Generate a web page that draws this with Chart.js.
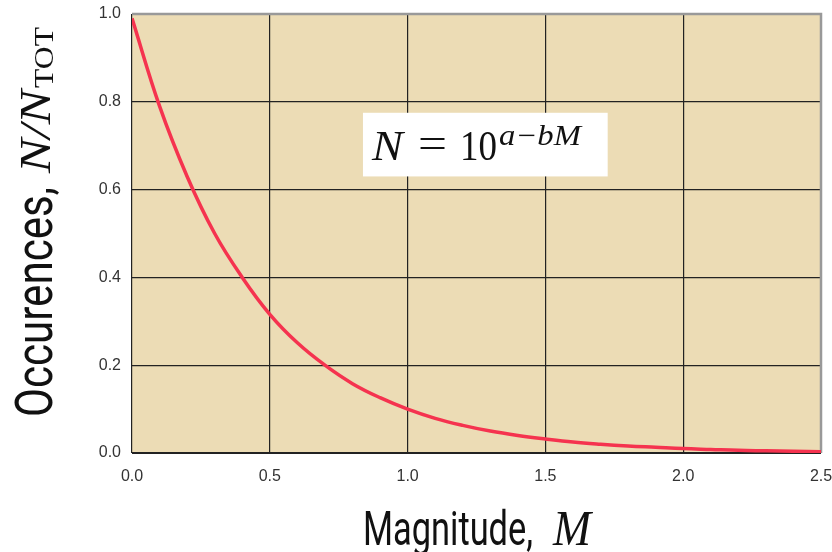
<!DOCTYPE html>
<html>
<head>
<meta charset="utf-8">
<script src="https://cdn.jsdelivr.net/npm/chart.js@4"></script>
<style>
  html, body { margin: 0; padding: 0; background: #fff; }
  #wrap { width: 832px; height: 552px; }
</style>
</head>
<body>
<div id="wrap"><canvas id="gr"></canvas></div>
<script>
// values
var magnitudes = [0, 0.1, 0.2, 0.3, 0.4, 0.5, 0.6, 0.7, 0.8, 0.9, 1.0, 1.1, 1.2, 1.3,
  1.4, 1.5, 1.6, 1.7, 1.8, 1.9, 2.0, 2.1, 2.2, 2.3, 2.4, 2.5];
var occurences = [0.99, 0.79, 0.63, 0.50, 0.40, 0.316, 0.251, 0.20, 0.158, 0.126, 0.10, 0.079,
  0.063, 0.05, 0.04, 0.032, 0.025, 0.02, 0.016, 0.013, 0.01, 0.008, 0.006, 0.005, 0.004, 0.003];
var xTicks = [0, 0.5, 1.0, 1.5, 2.0, 2.5];
var yTicks = [0, 0.2, 0.4, 0.6, 0.8, 1.0];

var points = magnitudes.map((m, i) => ({ x: m, y: occurences[i] }));

// draw text squeezed/stretched to a given width
function fitText(ctx, txt, font, x, y, w) {
  ctx.save();
  ctx.font = font;
  var mw = ctx.measureText(txt).width;
  ctx.translate(x, y);
  ctx.scale(w / mw, 1);
  ctx.fillText(txt, 0, 0);
  ctx.restore();
}

var paper = {
  id: 'paper',
  beforeDraw(chart) {
    var a = chart.chartArea, ctx = chart.ctx;
    ctx.save();
    ctx.fillStyle = '#ecdcb5';
    ctx.fillRect(a.left, a.top, a.right - a.left, a.bottom - a.top);
    ctx.restore();
  },
  beforeDatasetsDraw(chart) {
    var a = chart.chartArea, ctx = chart.ctx;
    ctx.save();
    ctx.strokeStyle = '#999';
    ctx.lineWidth = 2.5;
    ctx.beginPath();
    ctx.moveTo(a.left, a.top);
    ctx.lineTo(a.right, a.top);
    ctx.lineTo(a.right, a.bottom);
    ctx.stroke();
    ctx.strokeStyle = '#222';
    ctx.lineWidth = 2;
    ctx.beginPath();
    ctx.moveTo(a.left, a.bottom);
    ctx.lineTo(a.right, a.bottom);
    ctx.stroke();
    ctx.restore();
  },
  afterDraw(chart) {
    var ctx = chart.ctx;
    var xs = chart.scales.x, ys = chart.scales.y;
    ctx.save();
    ctx.fillStyle = '#111';
    ctx.textBaseline = 'alphabetic';

    // formula box
    var bx = xs.getPixelForValue(0.838), by = ys.getPixelForValue(0.775);
    var bw = xs.getPixelForValue(1.726) - bx, bh = ys.getPixelForValue(0.63) - by;
    ctx.fillStyle = '#fff';
    ctx.fillRect(bx, by, bw, bh);
    ctx.fillStyle = '#111';
    fitText(ctx, 'N', 'italic 42px "Liberation Serif"', bx + 9, by + 47, 31);
    fitText(ctx, '=', '42px "Liberation Serif"', bx + 55, by + 44, 29);
    fitText(ctx, '10', '42px "Liberation Serif"', bx + 97, by + 47, 37);
    fitText(ctx, 'a\u2212bM', 'italic 29px "Liberation Serif"', bx + 136, by + 32, 82);

    // x title
    fitText(ctx, 'Magnitude,', '49px Roboto', 363, 545, 170);
    fitText(ctx, 'M', 'italic 50px "Liberation Serif"', 553, 545, 38);

    // y title, rotated
    ctx.save();
    ctx.rotate(-Math.PI / 2);
    fitText(ctx, 'Occurences,', '52px Roboto', -417, 52, 230);
    fitText(ctx, 'N/N', 'italic 45px "Liberation Serif"', -173, 50, 83);
    fitText(ctx, 'TOT', '28px "Liberation Serif"', -88, 53, 61);
    ctx.restore();

    ctx.restore();
  }
};

new Chart(document.getElementById('gr'), {
  type: 'line',
  data: {
    datasets: [{
      label: 'N/NTOT',
      data: points,
      borderColor: '#f5334f',
      borderWidth: 3.5,
      pointRadius: 0,
      tension: 0.4,
      fill: false
    }]
  },
  options: {
    responsive: true,
    maintainAspectRatio: false,
    animation: false,
    layout: { padding: { top: 14, right: 11, left: 0, bottom: 0 } },
    plugins: { legend: { display: false }, tooltip: { enabled: false } },
    scales: {
      x: {
        type: 'linear',
        min: 0, max: 2.5,
        afterBuildTicks: s => { s.ticks = xTicks.map(v => ({ value: v })); },
        afterFit: s => { s.height = 99; s.paddingLeft = 0; s.paddingRight = 0; },
        grid: { color: '#222', lineWidth: 1.2, drawTicks: false },
        border: { display: false },
        ticks: {
          color: '#333', padding: 14,
          font: { family: 'Liberation Sans', size: 16 },
          callback: v => v.toFixed(1)
        }
      },
      y: {
        min: 0, max: 1.0,
        afterBuildTicks: s => { s.ticks = yTicks.map(v => ({ value: v })); },
        afterFit: s => { s.width = 132; s.paddingTop = 0; s.paddingBottom = 0; },
        grid: { color: '#222', lineWidth: 1.2, drawTicks: false },
        border: { display: false },
        ticks: {
          color: '#333', padding: 11,
          font: { family: 'Liberation Sans', size: 16 },
          callback: v => v.toFixed(1)
        }
      }
    }
  },
  plugins: [paper]
});
</script>
</body>
</html>
